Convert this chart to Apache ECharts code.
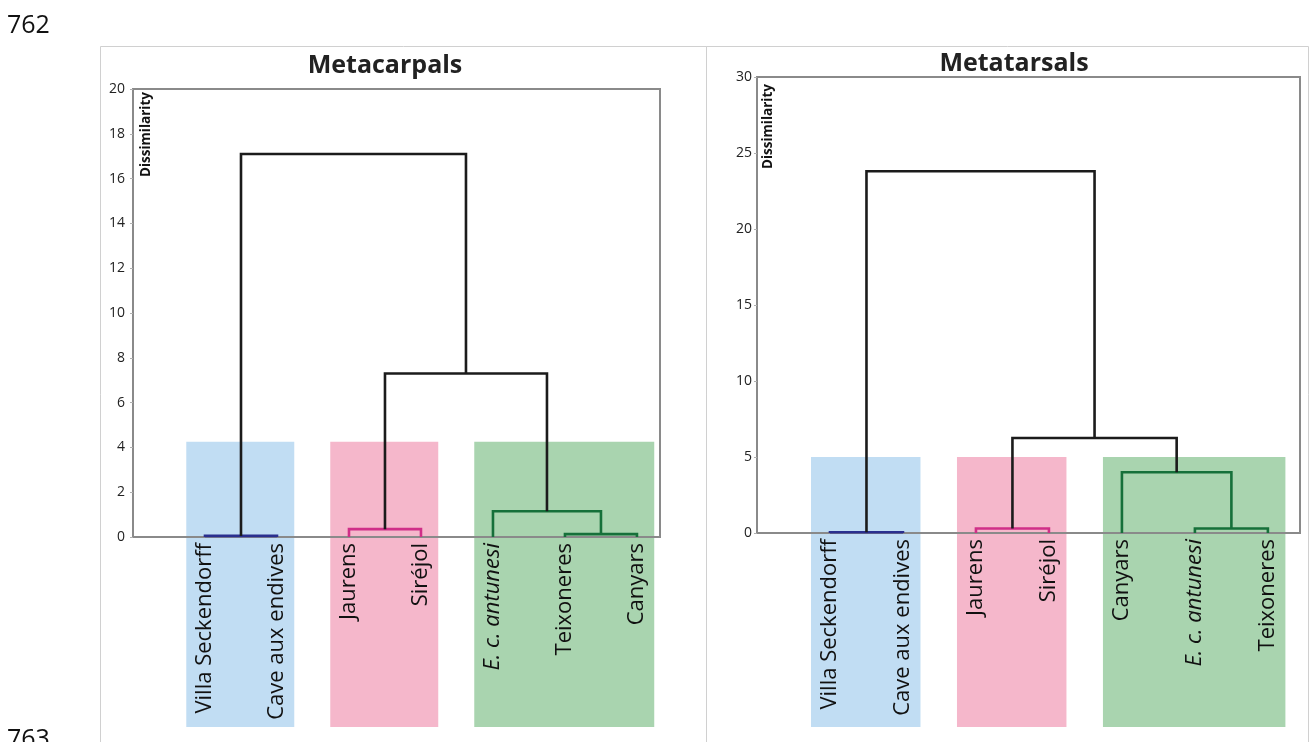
<!DOCTYPE html>
<html><head><meta charset="utf-8">
<script src="https://cdn.jsdelivr.net/npm/echarts@6/dist/echarts.min.js"></script>
<style>html,body{margin:0;padding:0;background:#fff}#c{width:1315px;height:742px}</style>
</head><body><div id="c"></div>
<script>
// ---------- DATA ----------
const panelTitles = ['Metacarpals', 'Metatarsals'];
const axisName = 'Dissimilarity';
const pageNumbers = ['762', '763'];

// Metacarpals
const leavesMC = ['Villa Seckendorff', 'Cave aux endives', 'Jaurens', 'Siréjol', 'E. c. antunesi', 'Teixoneres', 'Canyars'];
// merges: [childA, childB, height, cluster]  (nodes 0..6 are leaves, 7.. are merges in order)
const mergesMC = [[0, 1, 0.05, 'blue'], [2, 3, 0.35, 'pink'], [5, 6, 0.13, 'green'], [4, 9, 1.15, 'green'], [8, 10, 7.3, 'black'], [7, 11, 17.1, 'black']];
// highlighted groups: [firstLeaf, lastLeaf, topHeight, cluster]
const groupsMC = [[0, 1, 4.25, 'blue'], [2, 3, 4.25, 'pink'], [4, 6, 4.25, 'green']];
const yMaxMC = 20, yStepMC = 2;

// Metatarsals
const leavesMT = ['Villa Seckendorff', 'Cave aux endives', 'Jaurens', 'Siréjol', 'Canyars', 'E. c. antunesi', 'Teixoneres'];
const mergesMT = [[0, 1, 0.05, 'blue'], [2, 3, 0.3, 'pink'], [5, 6, 0.3, 'green'], [4, 9, 4.0, 'green'], [8, 10, 6.25, 'black'], [7, 11, 23.8, 'black']];
const groupsMT = [[0, 1, 5.0, 'blue'], [2, 3, 5.0, 'pink'], [4, 6, 5.0, 'green']];
const yMaxMT = 30, yStepMT = 5;

const italicLeaves = ['E. c. antunesi'];

// ---------- STYLE ----------
const lineColors = {black: '#1b1b1b', blue: '#2a2f8e', pink: '#cf2f88', green: '#16703a'};
const fillColors = {blue: '#c1ddf3', pink: '#f5b7cb', green: '#a9d4af'};
const FONT = "'Open Sans', 'DejaVu Sans', sans-serif";
const AXIS_GRAY = '#8a8a8a';
const LEAF_FONT = 22;

function buildLinks(nLeaves, merges) {
  const nx = [], nh = [];
  for (let i = 0; i < nLeaves; i++) { nx.push(i + 1); nh.push(0); }
  const out = [];
  merges.forEach(m => {
    const a = m[0], b = m[1];
    out.push({value: [nx[a], nh[a], nx[b], nh[b], m[2]], cluster: m[3]});
    nx.push((nx[a] + nx[b]) / 2); nh.push(m[2]);
  });
  return out;
}
function buildGroups(groups) {
  return groups.map(g => ({value: [g[0] + 1, g[1] + 1, g[2]], cluster: g[3]}));
}

const linksMC = buildLinks(leavesMC.length, mergesMC);
const linksMT = buildLinks(leavesMT.length, mergesMT);
const rectsMC = buildGroups(groupsMC);
const rectsMT = buildGroups(groupsMT);

function linkRenderer(list) {
  return function (params, api) {
    const d = list[params.dataIndex];
    const p1 = api.coord([api.value(0), api.value(1)]);
    const p2 = api.coord([api.value(0), api.value(4)]);
    const p3 = api.coord([api.value(2), api.value(4)]);
    const p4 = api.coord([api.value(2), api.value(3)]);
    return {type: 'polyline', shape: {points: [p1, p2, p3, p4]},
      style: {stroke: lineColors[d.cluster], lineWidth: 2.6, fill: null, lineJoin: 'miter'}};
  };
}
function rectRenderer(list) {
  return function (params, api) {
    const d = list[params.dataIndex];
    const tl = api.coord([api.value(0) - 0.26, api.value(2)]);
    const tr = api.coord([api.value(1) + 0.24, api.value(2)]);
    const bottom = api.getHeight() - 15;
    return {type: 'rect', shape: {x: tl[0], y: tl[1], width: tr[0] - tl[0], height: bottom - tl[1]},
      style: {fill: fillColors[d.cluster]}};
  };
}

function leafFormatter(leaves) {
  return function (v) {
    const name = leaves[Math.round(v) - 1];
    if (name === undefined) return '';
    return italicLeaves.indexOf(name) >= 0 ? '{it|' + name + '}' : name;
  };
}
function xAxisCfg(gi, leaves, max) {
  const vals = leaves.map((_, i) => i + 1);
  return {
    gridIndex: gi, type: 'value', min: 0, max: max, z: 3,
    axisLine: {show: true, onZero: true, lineStyle: {color: AXIS_GRAY, width: 2}},
    axisTick: {show: false}, splitLine: {show: false},
    axisLabel: {
      customValues: vals, rotate: 90, margin: 6, fontSize: LEAF_FONT, color: '#111', fontFamily: FONT,
      formatter: leafFormatter(leaves),
      rich: {it: {fontStyle: 'italic', fontSize: LEAF_FONT, color: '#111', fontFamily: FONT}}
    }
  };
}
function yAxisCfg(gi, max, step, margin) {
  return {
    gridIndex: gi, type: 'value', min: 0, max: max, interval: step, z: 3,
    axisLine: {show: true, lineStyle: {color: AXIS_GRAY, width: 2}},
    axisTick: {show: true, length: 3, lineStyle: {color: '#b0b0b0'}},
    splitLine: {show: false},
    axisLabel: {fontSize: 14, color: '#222', fontFamily: FONT, margin: margin}
  };
}

const chart = echarts.init(document.getElementById('c'));
chart.setOption({
  backgroundColor: '#fff',
  animation: false,
  grid: [
    {left: 133, top: 89, width: 527, height: 448, show: true, borderColor: AXIS_GRAY, borderWidth: 2, backgroundColor: 'transparent'},
    {left: 757, top: 77, width: 543, height: 456, show: true, borderColor: AXIS_GRAY, borderWidth: 2, backgroundColor: 'transparent'}
  ],
  xAxis: [xAxisCfg(0, leavesMC, 7.32), xAxisCfg(1, leavesMT, 7.44)],
  yAxis: [yAxisCfg(0, yMaxMC, yStepMC, 8), yAxisCfg(1, yMaxMT, yStepMT, 5)],
  series: [
    {type: 'custom', xAxisIndex: 0, yAxisIndex: 0, z: 1, clip: false, silent: true,
      renderItem: rectRenderer(rectsMC), data: rectsMC.map(r => r.value)},
    {type: 'custom', xAxisIndex: 1, yAxisIndex: 1, z: 1, clip: false, silent: true,
      renderItem: rectRenderer(rectsMT), data: rectsMT.map(r => r.value)},
    {type: 'custom', xAxisIndex: 0, yAxisIndex: 0, z: 5, clip: false, silent: true,
      renderItem: linkRenderer(linksMC), data: linksMC.map(r => r.value)},
    {type: 'custom', xAxisIndex: 1, yAxisIndex: 1, z: 5, clip: false, silent: true,
      renderItem: linkRenderer(linksMT), data: linksMT.map(r => r.value)}
  ],
  graphic: [
    {type: 'rect', shape: {x: 100.5, y: 46.5, width: 606, height: 720}, style: {fill: null, stroke: '#d0d0d0', lineWidth: 1}, z: 0},
    {type: 'rect', shape: {x: 706.5, y: 46.5, width: 602, height: 720}, style: {fill: null, stroke: '#d0d0d0', lineWidth: 1}, z: 0},
    {type: 'text', x: 7, y: 26, style: {text: pageNumbers[0], font: "25px " + FONT, fill: '#111', verticalAlign: 'middle'}},
    {type: 'text', x: 7, y: 727, style: {text: pageNumbers[1], font: "25px " + FONT, fill: '#111', verticalAlign: 'top'}},
    {type: 'text', x: 385, y: 66, style: {text: panelTitles[0], font: "bold 25px " + FONT, fill: '#222', align: 'center', verticalAlign: 'middle'}},
    {type: 'text', x: 1014, y: 64, style: {text: panelTitles[1], font: "bold 25px " + FONT, fill: '#222', align: 'center', verticalAlign: 'middle'}},
    {type: 'text', x: 146, y: 92, rotation: Math.PI / 2, style: {text: axisName, font: "bold 13.5px " + FONT, fill: '#111', align: 'right', verticalAlign: 'middle'}, z: 10},
    {type: 'text', x: 768, y: 84, rotation: Math.PI / 2, style: {text: axisName, font: "bold 13.5px " + FONT, fill: '#111', align: 'right', verticalAlign: 'middle'}, z: 10}
  ]
});
</script>
</body></html>
